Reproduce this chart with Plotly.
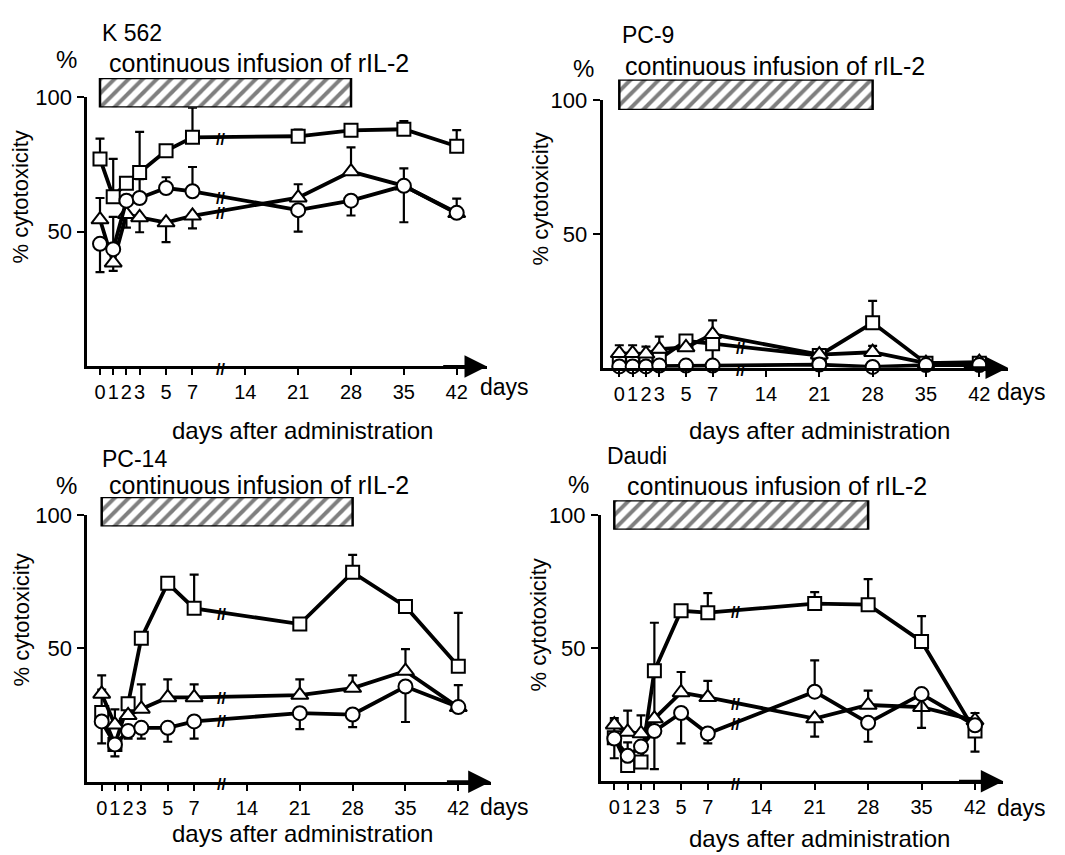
import numpy as np
import plotly.graph_objects as go

W, H = 1065, 855

# ---------------- data ----------------
DAYS = [0, 1, 2, 3, 5, 7, 21, 28, 35, 42]
TICK_DAYS = [0, 1, 2, 3, 5, 7, 14, 21, 28, 35, 42]
TICK_LABELS = ["0", "1", "2", "3", "5", "7", "14", "21", "28", "35", "42"]
INFUSION_START, INFUSION_END = 0, 28
BREAK_DAY = 10.65

PANEL_NAMES = ["K 562", "PC-9", "PC-14", "Daudi"]

# K 562
k562_sq = [77, 63, 68, 72, 80, 85, 85.4, 87.6, 88, 81.7]
k562_sq_up = [7.5, 14, 0, 15, 0, 11, 2.5, 1, 3, 6]
k562_sq_dn = [0, 0, 0, 0, 0, 0, 0, 0, 0, 0]
k562_ci = [45.5, 43.5, 61.5, 62.5, 66.2, 65, 58, 61.5, 67, 57]
k562_ci_up = [0, 12, 0, 7, 4, 9, 0, 0, 0, 0]
k562_ci_dn = [10.5, 0, 0, 0, 0, 0, 8, 5.5, 13.5, 0]
k562_tr = [54.5, 38.5, 56.5, 55.3, 53.4, 55.9, 62.6, 72.3, 67, 56.8]
k562_tr_up = [8, 0, 0, 0, 0, 0, 5, 9, 6.5, 5.5]
k562_tr_dn = [0, 3, 5, 5.5, 7.3, 4.7, 0, 0, 0, 0]

# PC-9
pc9_sq = [2, 2, 2, 3.3, 10, 9, 4.6, 16.8, 1.7, 1.7]
pc9_sq_up = [0, 0, 0, 0, 0, 0, 0, 8.2, 0, 0]
pc9_sq_dn = [0, 0, 0, 0, 0, 8, 0, 0, 0, 0]
pc9_ci = [0.5, 0.5, 0.5, 0.8, 0.8, 0.8, 1.2, 0.3, 1, 1]
pc9_ci_up = [0, 0, 0, 0, 0, 0, 0, 0, 0, 0]
pc9_ci_dn = [0, 0, 0, 0, 0, 0, 0, 0, 0, 0]
pc9_tr = [5.4, 5.4, 5.2, 7, 7.6, 12.5, 4.9, 5.8, 1.7, 2.1]
pc9_tr_up = [3, 3, 2.7, 4.6, 0, 5.2, 0, 2.4, 0, 0]
pc9_tr_dn = [0, 0, 0, 0, 0, 0, 0, 0, 0, 0]

# PC-14
pc14_sq = [26, 14, 29.2, 53.8, 74.4, 65, 59.1, 78.5, 65.7, 43.3]
pc14_sq_up = [8.5, 0, 0, 0, 0, 12.6, 0, 6.5, 0, 20]
pc14_sq_dn = [0, 0, 0, 0, 0, 0, 0, 0, 0, 0]
pc14_ci = [22.6, 14, 19, 20.2, 20.2, 22.6, 25.7, 25.2, 35.7, 28]
pc14_ci_up = [0, 0, 0, 0, 0, 0, 0, 0, 0, 0]
pc14_ci_dn = [8.2, 4.5, 2.8, 4, 5.2, 6.4, 6, 4.7, 13.3, 0]
pc14_tr = [32.9, 21.4, 24.9, 27.3, 31.6, 31.6, 32.5, 35.1, 41.5, 27.9]
pc14_tr_up = [7, 5.7, 0, 9.2, 6.8, 4.9, 5.9, 4.8, 8.2, 8.3]
pc14_tr_dn = [0, 0, 0, 0, 0, 0, 0, 0, 0, 0]

# Daudi
daudi_sq = [16.3, 5.9, 7.2, 41.5, 64, 63.3, 66.7, 66.3, 52.5, 18.8]
daudi_sq_up = [6.5, 0, 0, 18, 0, 7.3, 4.3, 9.6, 9.5, 0]
daudi_sq_dn = [0, 0, 0, 37, 0, 0, 0, 0, 0, 7.7]
daudi_ci = [16, 9.5, 13, 18.8, 25.6, 17.9, 33.6, 21.9, 32.7, 21]
daudi_ci_up = [0, 5.1, 0, 0, 0, 0, 11.8, 0, 0, 0]
daudi_ci_dn = [7.4, 0, 0, 0, 11.4, 3.7, 0, 7.1, 12.7, 0]
daudi_tr = [21.2, 18.5, 17.9, 23.5, 33.3, 31.5, 23.5, 28.6, 27.8, 22.8]
daudi_tr_up = [2.5, 8, 6.8, 0, 7.7, 6.2, 0, 5.4, 0, 2.8]
daudi_tr_dn = [0, 0, 0, 0, 0, 0, 6.8, 0, 0, 0]

SERIES = [
    [(k562_sq, k562_sq_up, k562_sq_dn), (k562_tr, k562_tr_up, k562_tr_dn), (k562_ci, k562_ci_up, k562_ci_dn)],
    [(pc9_sq, pc9_sq_up, pc9_sq_dn), (pc9_tr, pc9_tr_up, pc9_tr_dn), (pc9_ci, pc9_ci_up, pc9_ci_dn)],
    [(pc14_sq, pc14_sq_up, pc14_sq_dn), (pc14_tr, pc14_tr_up, pc14_tr_dn), (pc14_ci, pc14_ci_up, pc14_ci_dn)],
    [(daudi_sq, daudi_sq_up, daudi_sq_dn), (daudi_tr, daudi_tr_up, daudi_tr_dn), (daudi_ci, daudi_ci_up, daudi_ci_dn)],
]
SYMBOLS = ["square", "triangle-up", "circle"]
MSIZE = [13, 15, 14]

# ---------------- broken x scale (days 0-7 stretched) ----------------
STRETCH = 1.75


def xpos(d):
    d = np.asarray(d, dtype=float)
    return np.where(d <= 7, d * STRETCH, 7 * STRETCH + (d - 7))


# ---------------- layout geometry (screen pixels) ----------------
GEOM = [
    dict(yline=87.3, d0=100.0, d42=456.7, tip=487.0, y0=359.4, y100=86.0, bar=(66.7, 96.7),
         title=(100, 21.5), pct=(66, 48), cont=(107, 52), ytitle=(20, 188), days=(478, 380), dax=(302, 424)),
    dict(yline=602.7, d0=619.3, d42=979.3, tip=1008.0, y0=360.7, y100=89.3, bar=(68.3, 99.3),
         title=(620, 23), pct=(584, 57), cont=(623, 55), ytitle=(540, 190), days=(995, 385), dax=(820, 424)),
    dict(yline=87.3, d0=101.7, d42=458.3, tip=490.7, y0=780.6, y100=510.0, bar=(491.7, 521.7),
         title=(100, 453), pct=(66, 480), cont=(107, 480), ytitle=(21, 617), days=(478, 806), dax=(302, 833)),
    dict(yline=601.0, d0=614.3, d42=975.0, tip=1003.3, y0=780.0, y100=510.0, bar=(495.0, 525.0),
         title=(605, 450), pct=(578, 479), cont=(625, 481), ytitle=(538, 622), days=(995, 807), dax=(820, 838)),
]
OFF = 8  # page body margin
MIN_BREAK_GAP = 5  # merge break marks of lines that run together (in % units)

SANS = "Liberation Sans, Arial, DejaVu Sans"

fig = go.Figure()
layout = dict(width=W, height=H, margin=dict(l=0, r=0, t=0, b=0),
              paper_bgcolor="white", plot_bgcolor="rgba(0,0,0,0)", showlegend=False)
annotations = []


def px(x):
    return (x - OFF) / W


def py(y):
    return 1 - (y - OFF) / H


pos42 = float(xpos(42))
xbreak = float(xpos(BREAK_DAY))
for i, g in enumerate(GEOM):
    k = (g["d42"] - g["d0"]) / pos42
    xr = [(g["yline"] - g["d0"]) / k, (g["tip"] - g["d0"]) / k]
    xdom = [px(g["yline"]), px(g["tip"])]
    main = 2 * i + 1
    barn = 2 * i + 2
    xa, ya = f"x{main}", f"y{main}"
    xb, yb = f"x{barn}", f"y{barn}"
    tickstyle = dict(ticks="outside", tickwidth=2, tickcolor="black")
    layout[f"xaxis{main}"] = dict(domain=xdom, range=xr, anchor=ya, showline=True, linewidth=3,
                                  linecolor="black", showgrid=False, zeroline=False,
                                  tickvals=list(xpos(TICK_DAYS)), ticktext=TICK_LABELS, tickangle=0,
                                  ticklen=6, ticklabelstandoff=0,
                                  tickfont=dict(family=SANS, size=20, color="black"), **tickstyle)
    layout[f"yaxis{main}"] = dict(domain=[py(g["y0"]), py(g["y100"])], range=[0, 100], anchor=xa,
                                  showline=True, linewidth=3, linecolor="black", showgrid=False,
                                  zeroline=False, tickvals=[50, 100], ticktext=["50", "100"],
                                  ticklen=7, ticklabelstandoff=1,
                                  tickfont=dict(family=SANS, size=22, color="black"), **tickstyle)
    layout[f"xaxis{barn}"] = dict(domain=xdom, range=xr, anchor=yb, visible=False)
    layout[f"yaxis{barn}"] = dict(domain=[py(g["bar"][1]), py(g["bar"][0])], range=[-0.5, 0.5],
                                  anchor=xb, visible=False)

    # infusion bar
    b0 = float(xpos(INFUSION_START))
    b1 = float(xpos(INFUSION_END))
    fig.add_trace(go.Bar(x=[b1 - b0], base=[b0], y=[0], orientation="h", width=1,
                         xaxis=xb, yaxis=yb, cliponaxis=False,
                         marker=dict(color="white", line=dict(color="black", width=2.5),
                                     pattern=dict(shape="/", fgcolor="black", bgcolor="white",
                                                  size=10, solidity=0.4))))

    xs = xpos(DAYS)
    placed = [0.0]  # axis break
    annotations.append(dict(x=xbreak, y=0, xref=xa, yref=ya, text="<b>//</b>",
                            showarrow=False, yshift=-3, font=dict(family=SANS, size=16, color="black")))
    for s, (vals, up, dn) in enumerate(SERIES[i]):
        fig.add_trace(go.Scatter(
            x=xs, y=vals, xaxis=xa, yaxis=ya, mode="lines+markers", cliponaxis=False,
            line=dict(color="black", width=3.8),
            marker=dict(symbol=SYMBOLS[s], size=MSIZE[s], color="white",
                        line=dict(color="black", width=2)),
            error_y=dict(type="data", symmetric=False, array=up, arrayminus=dn,
                         color="black", thickness=2.2, width=4.5)))
        # break marks on the data lines
        yb_val = float(np.interp(xbreak, xs, vals))
        if all(abs(yb_val - p) >= MIN_BREAK_GAP for p in placed):
            placed.append(yb_val)
            annotations.append(dict(x=xbreak, y=yb_val, xref=xa, yref=ya, text="<b>//</b>",
                                    showarrow=False, yshift=-2,
                                    font=dict(family=SANS, size=16, color="black")))
    # arrow at end of x axis
    annotations.append(dict(x=xr[1], y=0, xref=xa, yref=ya, ax=xr[1] - 6, ay=0, axref=xa, ayref=ya,
                            text="", showarrow=True, arrowhead=2, arrowsize=1.5, arrowwidth=3,
                            arrowcolor="black", standoff=0))

    # texts
    annotations.append(dict(x=px(g["title"][0]), y=py(g["title"][1]), xref="paper", yref="paper",
                            text=PANEL_NAMES[i], showarrow=False, xanchor="left", yanchor="middle",
                            font=dict(family=SANS, size=23, color="black")))
    annotations.append(dict(x=px(g["pct"][0]), y=py(g["pct"][1]), xref="paper", yref="paper",
                            text="%", showarrow=False, xanchor="center", yanchor="middle",
                            font=dict(family=SANS, size=24, color="black")))
    annotations.append(dict(x=px(g["cont"][0]), y=py(g["cont"][1]), xref="paper", yref="paper",
                            text="continuous infusion of rIL-2", showarrow=False, xanchor="left",
                            yanchor="middle", font=dict(family=SANS, size=25, color="black")))
    annotations.append(dict(x=px(g["ytitle"][0]), y=py(g["ytitle"][1]), xref="paper", yref="paper",
                            text="% cytotoxicity", showarrow=False, textangle=-90, xanchor="center",
                            yanchor="middle", font=dict(family=SANS, size=22, color="black")))
    annotations.append(dict(x=px(g["days"][0]), y=py(g["days"][1]), xref="paper", yref="paper",
                            text="days", showarrow=False, xanchor="left", yanchor="middle",
                            font=dict(family=SANS, size=23, color="black")))
    annotations.append(dict(x=px(g["dax"][0]), y=py(g["dax"][1]), xref="paper", yref="paper",
                            text="days after administration", showarrow=False, xanchor="center",
                            yanchor="middle", font=dict(family=SANS, size=24, color="black")))

layout["annotations"] = annotations
fig.update_layout(**layout)
fig.write_html("out.html")
